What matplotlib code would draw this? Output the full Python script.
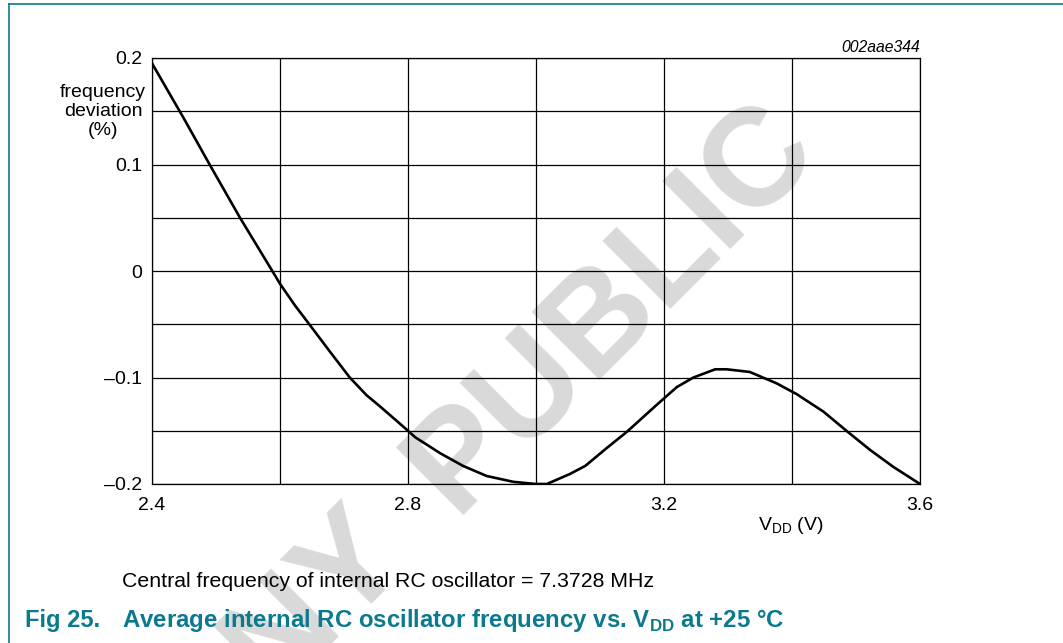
import numpy as np
import matplotlib
matplotlib.use("Agg")
import matplotlib.pyplot as plt
from matplotlib.lines import Line2D

plt.rcParams['font.family'] = ['Liberation Sans', 'DejaVu Sans']
plt.rcParams['mathtext.fontset'] = 'custom'
plt.rcParams['mathtext.rm'] = 'Liberation Sans'
plt.rcParams['mathtext.bf'] = 'Liberation Sans:bold'

# curve
vdd = [2.400, 2.450, 2.490, 2.5375, 2.590, 2.600, 2.623, 2.647, 2.678, 2.709,
       2.735, 2.756, 2.800, 2.811, 2.850, 2.886, 2.923, 2.965, 3.000, 3.017,
       3.053, 3.077, 3.110, 3.142, 3.188, 3.220, 3.246, 3.280, 3.298, 3.334,
       3.376, 3.407, 3.449, 3.485, 3.522, 3.558, 3.600]
dev = [0.195, 0.143, 0.100, 0.050, -0.002, -0.012, -0.032, -0.051, -0.0757, -0.100,
       -0.1165, -0.127, -0.150, -0.156, -0.171, -0.183, -0.1925, -0.198, -0.200, -0.200,
       -0.1906, -0.183, -0.1665, -0.151, -0.126, -0.109, -0.100, -0.0923, -0.0923, -0.0948,
       -0.1055, -0.1155, -0.132, -0.150, -0.168, -0.1838, -0.200]

xticks = [2.4, 2.8, 3.2, 3.6]
xgrid = [2.4, 2.6, 2.8, 3.0, 3.2, 3.4, 3.6]
yticks = [-0.2, -0.1, 0, 0.1, 0.2]
ytick_labels = ['\u20130.2', '\u20130.1', '0', '0.1', '0.2']
ygrid = [-0.2, -0.15, -0.1, -0.05, 0, 0.05, 0.1, 0.15, 0.2]

teal = '#0b7a8e'
W, H = 1063, 643

fig = plt.figure(figsize=(W / 100, H / 100), dpi=100)

# watermark, behind everything
fig.text(455 / W, 1 - 515 / H, 'PUBLIC', rotation=45, rotation_mode='anchor',
         ha='left', va='baseline', fontsize=100, fontweight='bold',
         color='#d9d9d9', zorder=-5)
fig.text(410 / W, 1 - 560 / H, 'COMPANY', rotation=45, rotation_mode='anchor',
         ha='right', va='baseline', fontsize=100, fontweight='bold',
         color='#d9d9d9', zorder=-5)

ax = fig.add_axes([152 / W, 1 - 484 / H, 768 / W, 426 / H])
ax.set_facecolor('none')
for x in xgrid:
    ax.axvline(x, color='black', lw=0.9, zorder=1)
for y in ygrid:
    ax.axhline(y, color='black', lw=0.9, zorder=1)
ax.plot(vdd, dev, color='black', lw=1.9, zorder=3)

ax.set_xlim(2.4, 3.6)
ax.set_ylim(-0.2, 0.2)
ax.set_xticks(xticks)
ax.set_xticklabels([str(v) for v in xticks])
ax.set_yticks(yticks)
ax.set_yticklabels(ytick_labels)
ax.tick_params(length=0, labelsize=14)
ax.tick_params(axis='x', pad=9)
ax.tick_params(axis='y', pad=7)
for s in ax.spines.values():
    s.set_linewidth(0.9)

fig.text(103 / W, 1 - 111.5 / H, 'frequency\ndeviation\n(%)', ha='center',
         va='center', fontsize=14, linespacing=1.15)
fig.text(791 / W, 1 - 530 / H, r'V$_{\mathrm{DD}}$ (V)', ha='center',
         va='baseline', fontsize=14)
fig.text(920 / W, 1 - 52 / H, '002aae344', ha='right', va='baseline',
         fontsize=11.3, style='italic')

fig.text(122 / W, 1 - 587 / H,
         'Central frequency of internal RC oscillator = 7.3728 MHz',
         ha='left', va='baseline', fontsize=15.3)
fig.text(25 / W, 1 - 627 / H, 'Fig 25.', ha='left', va='baseline',
         fontsize=17, fontweight='bold', color=teal)
fig.text(122 / W, 1 - 627 / H,
         r'Average internal RC oscillator frequency vs. V$_{\mathbf{DD}}$ at +25 ' + '\u00b0C',
         ha='left', va='baseline', fontsize=17.3, fontweight='bold', color=teal)

# page frame
fig.add_artist(Line2D([9 / W, 1], [1 - 4 / H, 1 - 4 / H], color=teal, lw=1.2))
fig.add_artist(Line2D([9 / W, 9 / W], [0, 1 - 4 / H], color=teal, lw=1.2))

fig.savefig('out.png', dpi=100)
